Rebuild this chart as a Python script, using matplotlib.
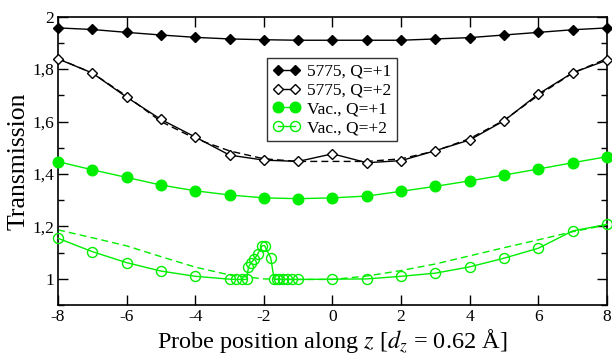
import numpy as np
import matplotlib
matplotlib.use("Agg")
import matplotlib.pyplot as plt
from matplotlib.ticker import MultipleLocator, FuncFormatter

plt.rcParams['font.family'] = ['Liberation Serif', 'DejaVu Serif']
plt.rcParams['mathtext.fontset'] = 'stix'
plt.rcParams['axes.unicode_minus'] = False

z = [-8, -7, -6, -5, -4, -3, -2, -1, 0, 1, 2, 3, 4, 5, 6, 7, 8]

t5775_q1 = [1.957, 1.951, 1.940, 1.930, 1.921, 1.915, 1.912, 1.910, 1.910,
            1.910, 1.910, 1.915, 1.920, 1.930, 1.940, 1.950, 1.957]
t5775_q2 = [1.839, 1.785, 1.693, 1.608, 1.541, 1.472, 1.453, 1.448, 1.477,
            1.443, 1.451, 1.489, 1.530, 1.603, 1.705, 1.786, 1.834]
t5775_q2_ref = [1.840, 1.785, 1.697, 1.600, 1.535, 1.488, 1.458, 1.448, 1.448,
                1.448, 1.458, 1.488, 1.535, 1.605, 1.700, 1.785, 1.840]

vac_q1 = [1.447, 1.416, 1.387, 1.358, 1.336, 1.320, 1.309, 1.306, 1.309,
          1.316, 1.334, 1.353, 1.374, 1.396, 1.419, 1.443, 1.466]

z_vac_q2 = [-8, -7, -6, -5, -4, -3.0, -2.8, -2.65, -2.5, -2.45, -2.38, -2.28,
            -2.18, -2.05, -1.98, -1.8, -1.7, -1.63, -1.55, -1.45, -1.34, -1.19,
            -1.0, 0, 1, 2, 3, 4, 5, 6, 7, 8]
vac_q2 = [1.155, 1.104, 1.062, 1.030, 1.010, 0.999, 0.998, 0.998, 0.998, 1.045,
          1.060, 1.075, 1.095, 1.127, 1.127, 1.080, 0.998, 0.998, 0.998, 0.998,
          0.998, 0.998, 0.998, 0.999, 1.000, 1.010, 1.022, 1.046, 1.079, 1.117,
          1.183, 1.208]
vac_q2_ref = [1.187, 1.157, 1.126, 1.085, 1.045, 1.015, 1.000, 0.998, 0.998,
              1.011, 1.032, 1.057, 1.088, 1.119, 1.149, 1.180, 1.206]

green = '#00ee00'

fig = plt.figure(figsize=(6.12, 3.54), dpi=100)
ax = fig.add_axes([0.0948, 0.138, 0.897, 0.815])

ax.plot(z, t5775_q2_ref, color='black', lw=1, ls=(0, (5, 3)))
ax.plot(z, vac_q2_ref, color=green, lw=1, ls=(0, (5, 3)))

ax.plot(z, t5775_q1, color='black', lw=1, marker='D', ms=5.5,
        mfc='black', mec='black', label='5775, Q=+1', clip_on=False, zorder=3)
ax.plot(z, t5775_q2, color='black', lw=1, marker='D', ms=5.5,
        mfc='white', mec='black', mew=1, label='5775, Q=+2', clip_on=False, zorder=3)
ax.plot(z, vac_q1, color=green, lw=1, marker='o', ms=7.6,
        mfc=green, mec=green, label='Vac., Q=+1', clip_on=False, zorder=3)
ax.plot(z_vac_q2, vac_q2, color=green, lw=1, marker='o', ms=7.2,
        mfc='none', mec=green, mew=1, label='Vac., Q=+2', clip_on=False, zorder=3)

ax.set_xlim(-8, 8)
ax.set_ylim(0.9, 2.0)
ax.xaxis.set_major_locator(MultipleLocator(2))
ax.yaxis.set_major_locator(MultipleLocator(0.2))
ax.yaxis.set_minor_locator(MultipleLocator(0.1))
ax.yaxis.set_major_formatter(FuncFormatter(lambda v, p: ('%g' % round(v, 2)).replace('.', ',')))
ax.tick_params(which='both', direction='in', top=True, right=True, labelsize=12.5, width=1)
ax.tick_params(which='major', length=7, pad=3)
ax.tick_params(which='minor', length=4)
for s in ax.spines.values():
    s.set_linewidth(1.2)

ax.set_xlabel('Probe position along $z$ [$d_z$ = 0.62 Å]', fontsize=17.5, labelpad=1)
ax.set_ylabel('Transmission', fontsize=18.5, labelpad=1.5)

leg = ax.legend(loc='upper left', bbox_to_anchor=(0.381, 0.855), numpoints=2,
                fontsize=12.5, frameon=True, fancybox=False, edgecolor='black',
                handlelength=1.6, handletextpad=0.4, borderpad=0.3,
                labelspacing=0.15, borderaxespad=0)
leg.get_frame().set_linewidth(1)

fig.savefig('out.png', dpi=100)
